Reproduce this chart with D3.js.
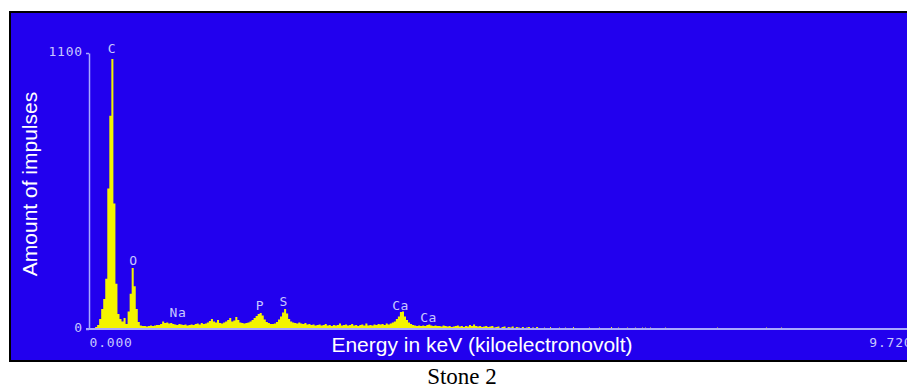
<!DOCTYPE html>
<html>
<head>
<meta charset="utf-8">
<script src="https://cdn.jsdelivr.net/npm/d3@7"></script>
<style>
  body { margin: 0; background: #fff; }
  svg { display: block; }
</style>
</head>
<body>
<div id="chart"></div>
<script>
// spectrum, 0.024 keV per channel, starting at 0 keV
const channelWidth = 0.024;
const counts = [
  0, 0, 4, 8, 16, 40, 80, 120, 200, 560,
  850, 1076, 500, 180, 60, 40, 30, 44, 20, 70,
  140, 243, 170, 80, 28, 14, 12, 12, 10, 12,
  14, 12, 14, 16, 16, 20, 30, 24, 26, 22,
  24, 20, 18, 16, 20, 18, 16, 18, 14, 16,
  18, 16, 20, 22, 18, 24, 20, 22, 26, 32,
  40, 30, 26, 36, 24, 22, 26, 30, 36, 44,
  30, 34, 48, 36, 26, 24, 22, 24, 26, 30,
  36, 44, 52, 60, 64, 54, 38, 28, 24, 20,
  20, 22, 28, 38, 50, 66, 80, 62, 40, 30,
  26, 24, 22, 26, 22, 20, 24, 18, 20, 16,
  18, 14, 16, 18, 14, 16, 20, 14, 16, 12,
  16, 14, 16, 22, 14, 16, 18, 14, 16, 20,
  14, 16, 12, 16, 18, 14, 22, 14, 16, 14,
  18, 16, 20, 18, 20, 16, 22, 18, 22, 26,
  30, 40, 50, 68, 70, 50, 36, 26, 20, 16,
  14, 12, 14, 12, 14, 12, 16, 18, 14, 12,
  14, 12, 12, 10, 14, 12, 10, 12, 8, 10,
  12, 14, 10, 12, 8, 12, 10, 16, 12, 18,
  12, 10, 12, 8, 10, 12, 8, 10, 12, 6,
  8, 10, 0, 8, 10, 0, 8, 6, 10, 0,
  8, 6, 0, 8, 0, 6, 8, 0, 6, 0,
  8
];
// sparse high-energy counts [keV, count]
const tail = [
  [5.37, 6], [5.45, 8], [5.55, 6], [5.62, 6], [5.72, 8], [5.90, 6],
  [6.02, 6], [6.16, 8], [6.25, 6], [6.35, 6], [6.45, 6], [6.53, 6],
  [6.57, 6], [6.63, 6], [6.80, 6], [7.42, 6], [7.99, 6], [8.17, 6]
];
const peakLabels = ['C', 'O', 'Na', 'P', 'S', 'Ca', 'Ca'];
const peakEnergy = [0.272, 0.525, 1.05, 2.02, 2.30, 3.68, 4.01];
const peakCount = [1100, 255, 48, 76, 90, 76, 26];
const yTicks = [0, 1100];
const xTicks = [0, 9.72];

const W = 907, H = 388;
const svg = d3.select('#chart').append('svg')
  .attr('width', W).attr('height', H);

svg.append('rect')
  .attr('x', 10).attr('y', 12)
  .attr('width', 910).attr('height', 349)
  .attr('fill', '#2200ee')
  .attr('stroke', '#000').attr('stroke-width', 2);

const x = d3.scaleLinear().domain([0, 9.72]).range([89, 912]);
const y = d3.scaleLinear().domain([0, 1100]).range([329, 53]);

const pts = counts.map((c, i) => [i * channelWidth, c]);
pts.push([counts.length * channelWidth, 0]);

const area = d3.area()
  .x(d => x(d[0]))
  .y0(y(0))
  .y1(d => y(d[1]))
  .curve(d3.curveStepAfter);

svg.append('path')
  .datum(pts)
  .attr('d', area)
  .attr('fill', '#f4f400');

svg.append('g').attr('fill', '#f4f400')
  .selectAll('rect')
  .data(tail)
  .enter().append('rect')
  .attr('x', d => Math.round(x(d[0])))
  .attr('width', 1)
  .attr('y', d => y(d[1]))
  .attr('height', d => y(0) - y(d[1]));

const lav = '#a8a8ff';
const txt = '#c8c8ff';
const mono = '"DejaVu Sans Mono", monospace';

const yAxis = svg.append('g')
  .attr('transform', 'translate(89,0)')
  .call(d3.axisLeft(y).tickValues(yTicks).tickSize(3).tickSizeOuter(0).tickPadding(3)
    .tickFormat(d3.format('d')));
yAxis.select('.domain').attr('stroke', lav).attr('stroke-width', 1.5);
yAxis.selectAll('.tick line').attr('stroke', lav).attr('stroke-width', 1.5);
yAxis.selectAll('.tick text')
  .attr('fill', txt).attr('font-family', mono).attr('font-size', 13)
  .attr('letter-spacing', 0.8)
  .attr('dy', '0.2em');

const xAxis = svg.append('g')
  .attr('transform', 'translate(0,329)')
  .call(d3.axisBottom(x).tickValues(xTicks).tickSize(0).tickPadding(9)
    .tickFormat(d3.format('.3f')));
xAxis.select('.domain').attr('stroke', lav).attr('stroke-width', 2)
  .attr('d', `M86,0H${W + 10}`);
xAxis.selectAll('.tick text')
  .attr('fill', txt).attr('font-family', mono).attr('font-size', 13)
  .attr('letter-spacing', 0.8)
  .attr('text-anchor', (d, i) => i === 0 ? 'start' : 'end');

svg.selectAll('text.peak')
  .data(peakLabels)
  .enter().append('text')
  .attr('class', 'peak')
  .attr('x', (d, i) => x(peakEnergy[i]))
  .attr('y', (d, i) => y(peakCount[i]))
  .attr('text-anchor', 'middle')
  .attr('fill', txt).attr('font-family', mono).attr('font-size', 13)
  .attr('letter-spacing', 0.5)
  .text(d => d);

svg.append('text')
  .attr('x', 482).attr('y', 352)
  .attr('text-anchor', 'middle')
  .attr('fill', '#fff')
  .attr('font-family', '"Liberation Sans", Arial, sans-serif')
  .attr('font-size', 21)
  .text('Energy in keV (kiloelectronovolt)');

svg.append('text')
  .attr('transform', 'translate(37,184) rotate(-90)')
  .attr('text-anchor', 'middle')
  .attr('fill', '#fff')
  .attr('font-family', '"Liberation Sans", Arial, sans-serif')
  .attr('font-size', 21)
  .text('Amount of impulses');

svg.append('text')
  .attr('x', 462).attr('y', 384)
  .attr('text-anchor', 'middle')
  .attr('fill', '#000')
  .attr('font-family', '"Liberation Serif", "Times New Roman", serif')
  .attr('font-size', 23)
  .text('Stone 2');
</script>
</body>
</html>
